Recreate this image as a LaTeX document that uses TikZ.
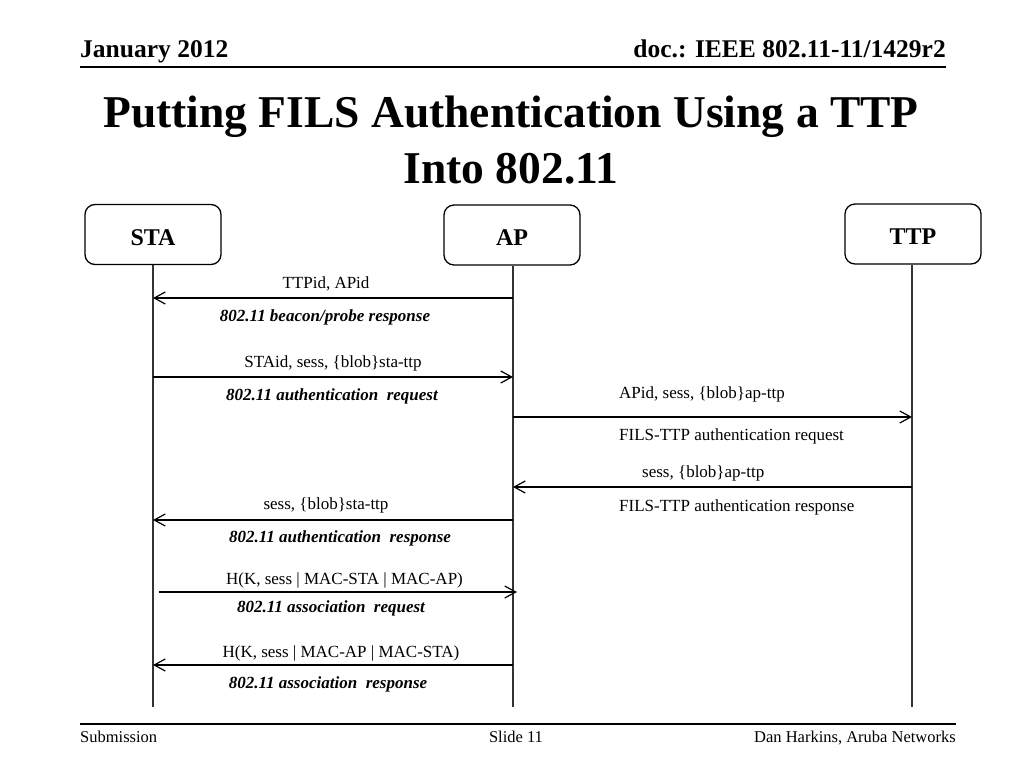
\documentclass[tikz,border=0pt]{standalone}
\usepackage{fontspec}
\setmainfont{Liberation Serif}
\usetikzlibrary{arrows.meta}
\begin{document}
\begin{tikzpicture}[x=1pt,y=-1pt,
  actor/.style={draw, rounded corners=10pt, line width=1.3pt, minimum width=136pt, minimum height=60pt, inner sep=0pt, text height=21pt, text depth=0pt, font=\fontsize{24}{28}\selectfont\bfseries},
  life/.style={line width=1.5pt, draw=black!80},
  msg/.style={line width=1.2pt, -{Straight Barb[length=11pt,width=12pt,line width=1.2pt]}},
  lbl/.style={font=\fontsize{17}{20}\selectfont, anchor=base, inner sep=0pt},
  lblw/.style={lbl, anchor=base west},
  lbli/.style={font=\fontsize{17}{20}\selectfont\bfseries\itshape, anchor=base, inner sep=0pt},
  hdr/.style={font=\fontsize{25.5}{30}\selectfont\bfseries, inner sep=0pt},
  ttl/.style={font=\fontsize{45.5}{54}\selectfont\bfseries, inner sep=0pt, anchor=base},
  ftr/.style={font=\fontsize{16.5}{20}\selectfont, inner sep=0pt},
  rule/.style={line width=1.8pt}
]
\fill[white] (0,0) rectangle (1024,768);
\useasboundingbox (0,0) rectangle (1024,768);

% header
\node[hdr, anchor=base west] (date) at (80,58) {January 2012};
\node[hdr, anchor=base east] (doc) at (946,58) {doc.: IEEE 802.11-11/1429r2};
\coordinate (hl) at (80,67);
\coordinate (hr) at (946,67);
\draw[rule] (hl) -- (hr);

% title
\node[ttl] (title1) at (511,127) {Putting FILS Authentication Using a TTP};
\node[ttl] (title2) at (511,183) {Into 802.11};

% actors
\node[actor] (sta) at (153,234.5) {STA};
\node[actor] (ap) at (512,235) {AP};
\node[actor] (ttp) at (913,234) {TTP};

% lifelines
\coordinate (staE) at (153,707);
\coordinate (apE) at (513,707);
\coordinate (ttpE) at (912,707);
\draw[life] (sta.south) -- (staE);
\draw[life] (ap.south -| apE) -- (apE);
\draw[life] (ttp.south -| ttpE) -- (ttpE);

% message coordinates
\coordinate (s1) at (153,298); \coordinate (a1) at (513,298);
\coordinate (s2) at (153,377); \coordinate (a2) at (513,377);
\coordinate (a3) at (513,417); \coordinate (t3) at (912,417);
\coordinate (a4) at (513,487); \coordinate (t4) at (912,487);
\coordinate (s5) at (153,520); \coordinate (a5) at (513,520);
\coordinate (s6) at (159,592); \coordinate (a6) at (517,592);
\coordinate (s7) at (153,665); \coordinate (a7) at (513,665);

\draw[msg] (a1) -- (s1);
\draw[msg] (s2) -- (a2);
\draw[msg] (a3) -- (t3);
\draw[msg] (t4) -- (a4);
\draw[msg] (a5) -- (s5);
\draw[msg] (s6) -- (a6);
\draw[msg] (a7) -- (s7);

% labels
\node[lbl] (m1a) at (326,288) {TTPid, APid};
\node[lbli] (m1b) at (325,321) {802.11 beacon/probe response};
\node[lbl] (m2a) at (333,367) {STAid, sess, \{blob\}sta-ttp};
\node[lbli] (m2b) at (332,400) {802.11 authentication\ \ request};
\node[lblw] (m3a) at (619,398) {APid, sess, \{blob\}ap-ttp};
\node[lblw] (m3b) at (619,440) {FILS-TTP authentication request};
\node[lblw] (m4a) at (642,477) {sess, \{blob\}ap-ttp};
\node[lblw] (m4b) at (619,511) {FILS-TTP authentication response};
\node[lbl] (m5a) at (326,509) {sess, \{blob\}sta-ttp};
\node[lbli] (m5b) at (340,542) {802.11 authentication\ \ response};
\node[lbl] (m6a) at (344.5,584) {H(K, sess | MAC-STA | MAC-AP)};
\node[lbli] (m6b) at (331,612) {802.11 association\ \ request};
\node[lbl] (m7a) at (341,657) {H(K, sess | MAC-AP | MAC-STA)};
\node[lbli] (m7b) at (328,688) {802.11 association\ \ response};

% footer
\coordinate (fl) at (80,724);
\coordinate (fr) at (956,724);
\draw[line width=1.5pt] (fl) -- (fr);
\node[ftr, anchor=base west] (sub) at (80,742) {Submission};
\node[ftr, anchor=base] (slide) at (516,742) {Slide 11};
\node[ftr, anchor=base east] (auth) at (956,742) {Dan Harkins, Aruba Networks};
\end{tikzpicture}
\end{document}
